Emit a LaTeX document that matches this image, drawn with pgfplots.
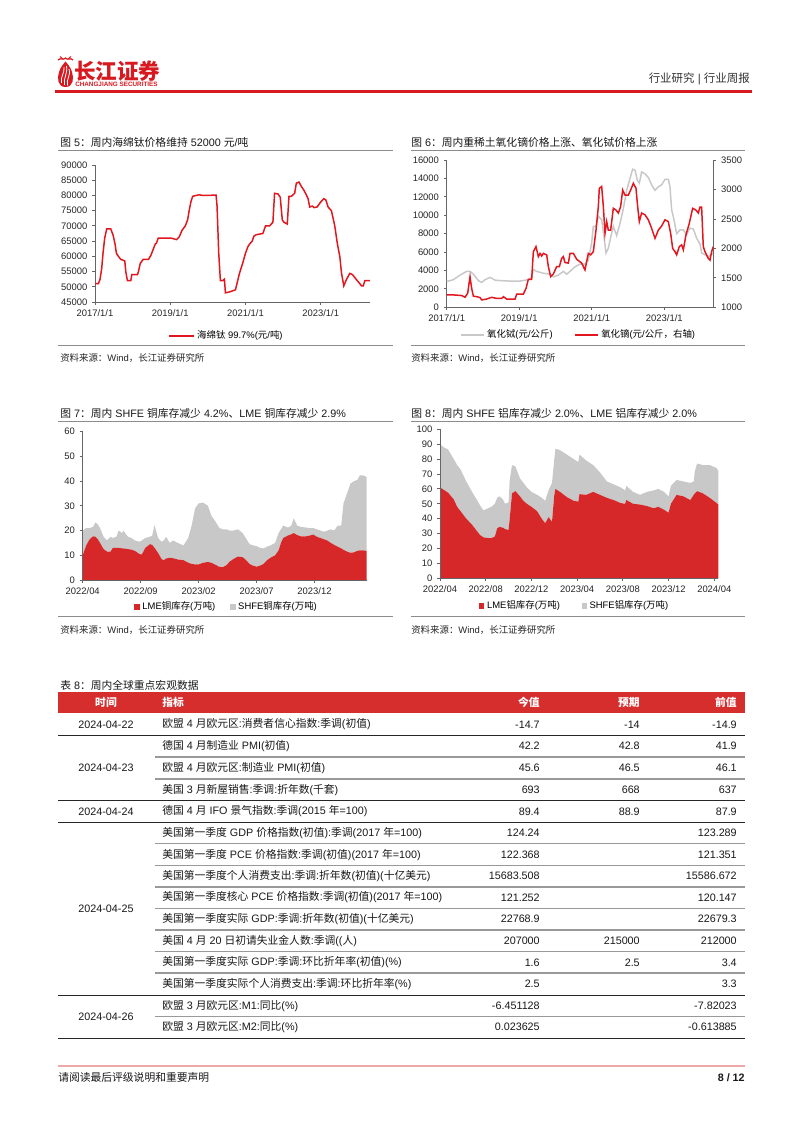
\documentclass[border=0pt]{standalone}
\usepackage{fontspec}
\setmainfont{Liberation Sans}
\newfontfamily\cjk{Noto Sans CJK SC}
\usepackage{pgfplots}
\pgfplotsset{compat=1.18}
\usepackage{pgfplotstable}
\XeTeXinterchartokenstate=1
\newXeTeXintercharclass\CJKcls
\newcount\mycnt
\mycnt="3000 \loop \XeTeXcharclass\mycnt=\CJKcls \ifnum\mycnt<"303F \advance\mycnt by 1 \repeat
\mycnt="4E00 \loop \XeTeXcharclass\mycnt=\CJKcls \ifnum\mycnt<"9FFF \advance\mycnt by 1 \repeat
\mycnt="FF00 \loop \XeTeXcharclass\mycnt=\CJKcls \ifnum\mycnt<"FFEF \advance\mycnt by 1 \repeat
\XeTeXinterchartoks 0 \CJKcls = {\cjk}
\XeTeXinterchartoks 4095 \CJKcls = {\cjk}
\XeTeXinterchartoks \CJKcls 0 = {\rmfamily}
\XeTeXinterchartoks \CJKcls 4095 = {\rmfamily}

\definecolor{cjred}{RGB}{225,22,30}
\definecolor{logored}{RGB}{215,25,32}
\definecolor{areared}{RGB}{214,40,40}
\definecolor{areagray}{RGB}{200,200,200}
\definecolor{lgray}{RGB}{200,200,200}
\definecolor{tbred}{RGB}{214,45,45}
\definecolor{rulegray}{RGB}{140,140,140}
\definecolor{pinkline}{RGB}{238,168,168}

\pgfplotstableread{
x y
2017.000 51000
2017.089 51000
2017.133 52400
2017.178 56000
2017.213 61000
2017.258 66000
2017.311 69000
2017.418 69000
2017.480 67000
2017.533 64000
2017.569 61000
2017.622 60000
2017.684 59000
2017.791 58500
2017.818 55000
2017.862 52000
2017.951 52000
2017.978 54000
2018.129 54000
2018.156 55000
2018.200 57600
2018.280 59000
2018.422 59000
2018.484 60300
2018.529 61700
2018.600 64000
2018.636 64400
2018.680 66000
2019.018 66000
2019.169 65500
2019.240 66400
2019.311 68500
2019.400 70000
2019.462 72000
2019.507 75300
2019.551 78000
2019.596 79700
2019.684 80000
2019.773 80200
2019.862 80000
2020.218 80100
2020.244 76500
2020.289 61000
2020.333 52000
2020.396 52000
2020.440 52500
2020.467 48000
2020.573 48300
2020.733 49000
2020.769 50800
2020.840 54400
2020.929 57900
2021.000 61000
2021.062 63100
2021.107 64000
2021.178 65000
2021.222 66600
2021.284 67100
2021.462 67500
2021.533 70000
2021.640 70000
2021.729 71200
2021.773 80700
2021.862 80500
2021.924 79400
2021.978 72000
2022.022 71200
2022.111 70600
2022.156 79700
2022.218 79700
2022.307 80700
2022.351 84000
2022.422 84400
2022.484 83000
2022.573 81300
2022.662 79000
2022.707 76200
2022.778 76500
2022.822 76000
2022.902 76200
2022.991 77700
2023.080 78900
2023.133 78600
2023.196 76200
2023.284 75000
2023.373 70000
2023.444 64000
2023.507 60000
2023.551 54600
2023.613 50300
2023.684 52400
2023.773 54400
2023.844 54000
2023.933 52600
2024.040 51000
2024.084 50300
2024.129 50300
2024.173 52000
2024.218 52000
2024.307 52000
}\tita

\pgfplotstableread{
x y
2017.000 2800
2017.184 3000
2017.368 3500
2017.551 3900
2017.643 3900
2017.735 3600
2017.873 2900
2017.965 2700
2018.057 3000
2018.195 3250
2018.332 2950
2018.470 2900
2018.746 2850
2019.022 2850
2019.251 3000
2019.343 3300
2019.389 4100
2019.481 3900
2019.665 3700
2019.848 3600
2019.940 3300
2020.078 3500
2020.216 3900
2020.308 3600
2020.400 3900
2020.537 4400
2020.675 4700
2020.813 4700
2020.905 5100
2020.997 7000
2021.043 8800
2021.116 8800
2021.181 9900
2021.273 9500
2021.337 7700
2021.392 5900
2021.456 6400
2021.521 7600
2021.594 8800
2021.686 7800
2021.778 9100
2021.870 10700
2021.962 12700
2022.054 14000
2022.127 15000
2022.192 14900
2022.256 13800
2022.311 13500
2022.375 14700
2022.467 14500
2022.559 14100
2022.651 13300
2022.743 12700
2022.835 13100
2022.927 13300
2023.018 13900
2023.110 13900
2023.156 13100
2023.202 10600
2023.267 9500
2023.340 8000
2023.432 8400
2023.524 8400
2023.616 7900
2023.708 8600
2023.800 8500
2023.891 7500
2023.983 6900
2024.029 5900
2024.121 5700
2024.213 5500
2024.351 5900
}\terb

\pgfplotstableread{
x y
2017.000 1210
2017.184 1210
2017.413 1200
2017.505 1170
2017.579 1240
2017.643 1520
2017.689 1320
2017.735 1190
2017.827 1180
2017.919 1165
2017.965 1125
2018.103 1140
2018.240 1170
2018.378 1150
2018.516 1150
2018.562 1180
2018.654 1140
2018.884 1140
2018.930 1225
2019.113 1225
2019.187 1320
2019.251 1475
2019.343 1475
2019.389 1945
2019.462 2030
2019.527 1860
2019.573 1915
2019.619 1870
2019.665 1915
2019.757 1890
2019.803 1690
2019.867 1520
2019.940 1565
2020.032 1690
2020.106 1690
2020.170 1830
2020.216 1860
2020.262 1760
2020.354 1750
2020.400 1915
2020.492 1915
2020.584 1815
2020.721 1750
2020.813 1635
2020.905 1915
2020.970 1890
2021.043 1945
2021.116 2310
2021.181 2710
2021.208 3020
2021.273 3050
2021.319 2710
2021.365 2255
2021.411 2455
2021.456 2310
2021.521 2310
2021.594 2680
2021.668 2650
2021.732 2600
2021.796 2710
2021.852 2990
2021.916 2905
2022.008 2905
2022.072 2990
2022.146 3105
2022.219 3020
2022.265 2710
2022.311 2455
2022.375 2600
2022.467 2570
2022.559 2485
2022.651 2340
2022.743 2170
2022.835 2310
2022.927 2380
2023.018 2485
2023.110 2455
2023.175 2255
2023.230 2000
2023.294 1945
2023.340 1890
2023.414 2030
2023.478 2060
2023.524 1975
2023.597 2230
2023.689 2425
2023.781 2680
2023.873 2650
2023.937 2600
2023.983 2700
2024.029 2700
2024.075 2030
2024.121 1945
2024.213 1830
2024.259 1800
2024.305 1945
2024.351 2030
}\dysp

\pgfplotstableread{
x lme shfe
0 10 10
0.3 14 7
0.6 16.5 4.5
0.9 17.7 3.8
1.1 17.5 5.8
1.3 16.5 6
1.5 15 6
1.8 12.5 5
2.1 11.5 4.5
2.4 11.5 6
2.6 13 4
2.9 13 4.5
3.1 13 7
3.4 12.8 6.2
3.5 12.8 7.2
3.9 12.5 5
4.2 12.3 4.7
4.5 11.8 4.2
4.9 10.5 5
5.1 10.3 5.7
5.4 13 4
5.8 14.5 3
6.0 14.2 3.8
6.2 13 9.2
6.5 11 6
6.8 8.5 7
7.0 8 8
7.2 8.7 8.8
7.5 9 6
7.8 8.8 7.2
8.2 8.3 6.7
8.7 8 6
9.1 7 10
9.4 6.5 15.5
9.7 6.3 22.7
10.0 6.3 24.7
10.4 7 24.3
10.8 7.3 22.7
11.1 7 19
11.4 6.3 17.7
11.8 5.3 15.7
12.1 5.2 15.3
12.4 6 14.5
12.7 7.5 12.5
13.0 8.5 11.5
13.4 9.5 11
13.8 9.2 9.8
14.0 8.5 9
14.4 6.5 8
14.7 5.8 8.2
15.0 5.4 8.3
15.3 5.8 7.2
15.6 6.5 6.3
15.9 8 5.5
16.2 9 5
16.6 10 5
16.9 12 7
17.1 15 5.5
17.3 17 5
17.7 18 3.2
18.0 18.5 3.5
18.2 19 6
18.5 18.2 3.8
18.8 17.7 3.8
19.3 17.7 3.5
19.6 18 3
19.9 18.4 2.6
20.2 17.5 3
20.5 17 3
20.8 16.5 3
21.1 16 4
21.4 15 5.5
21.7 14.2 5.8
22.0 13.5 8.5
22.3 12.8 9.2
22.5 12.2 18.8
22.8 11.5 23.5
23.1 11 28
23.4 11.2 28.8
23.7 11.8 28.7
23.9 12 30.3
24.2 12 30.3
24.5 11.8 29.9
}\copper

\pgfplotstableread{
x lme shfe
0 61 29
0.3 59.5 28.5
0.7 57.5 29
1.2 53 27
1.5 48 28
1.8 45 28
2.3 40 25
2.8 36 22
3.2 32 21
3.5 29 20
3.8 27.5 18
4.2 27 20
4.5 27 21
4.8 28 22
5.0 33.5 20.5
5.2 34.5 20.5
5.5 34 19
5.7 33 17
6.0 32.5 18.5
6.1 40 26
6.3 57 19
6.6 58.5 16.5
7.0 55 12
7.3 52 12
7.6 50 11
8.0 48 10
8.5 45 11
8.9 40 14
9.2 37 15
9.5 41 18
9.8 38 26
10.0 56 24
10.1 60 27
10.5 58 28
11.1 54.5 28.5
11.7 52 28
12.1 51.5 26.5
12.2 56.5 26.5
12.8 56 23
13.4 58 18
14.0 56 15
14.6 54 11
15.2 52.5 10.5
15.8 50.5 10.5
16.2 50 9
16.3 52.5 9.5
16.9 50 8
17.5 49.5 6.5
18.1 48.5 9.5
18.7 47 12
19.1 48 12
19.6 46 12
20.0 44 11
20.2 50 12
20.7 56 10
21.3 55 10
21.9 52.5 11.5
22.2 56 9
22.3 57 15
22.5 58.5 18.5
23.0 57 19
23.6 54 22
24.2 50.5 23.5
24.35 49.5 22.5
}\alum

\pgfplotsset{
  rp/.style={
    scale only axis, anchor=south west,
    axis line style={draw=black!60, line width=0.6pt},
    every tick/.style={draw=black!60, line width=0.6pt},
    tick align=outside, major tick length=2.2pt,
    tick label style={font=\fontsize{7}{8}\selectfont, text=black!85},
    /pgf/number format/assume math mode=true,
    /pgf/number format/1000 sep={},
    scaled ticks=false,
    legend cell align=left,
    legend columns=2,
    legend style={draw=none, fill=none, font=\fontsize{7}{8.4}\selectfont, anchor=center},
  },
  sqleg/.style={legend image code/.code={\fill[##1] (0pt,-2pt) rectangle (4pt,2pt);}},
}

\tikzset{
  tt/.style={anchor=west, inner sep=0, font=\fontsize{8}{9.6}\selectfont, text=black!90},
  src/.style={anchor=west, inner sep=0, font=\fontsize{7}{8.4}\selectfont, text=black!85},
  tb/.style={inner sep=0, font=\fontsize{8}{9.6}\selectfont, text=black!90},
  th/.style={inner sep=0, font=\fontsize{8}{9.6}\selectfont\bfseries, text=white},
}

\newcommand\trow[5]{%
  \node[tb, anchor=west] at (162,#1) {#2};
  \node[tb, anchor=east] at (540,#1) {#3};
  \node[tb, anchor=east] at (640,#1) {#4};
  \node[tb, anchor=east] at (737,#1) {#5};}

\begin{document}
\begin{tikzpicture}
\begin{scope}[x=0.7422pt,y=-0.7422pt]
\path[use as bounding box, fill=white] (0,0) rectangle (802,1133);
% ---------- header
\fill[logored] (65.5,87) .. controls (57.5,87) and (57,78) .. (59,72) .. controls (60.5,67) and (63.5,64) .. (65.5,61.5) .. controls (67.5,64) and (70.5,67) .. (72,72) .. controls (74,78) and (73.5,87) .. (65.5,87) -- cycle;
\draw[white, line width=0.6pt] (61.5,83) .. controls (60,77) and (65,73) .. (64,67);
\draw[white, line width=0.6pt] (64.5,85) .. controls (63,78) and (68,74) .. (66.5,66);
\draw[white, line width=0.6pt] (67.5,85.5) .. controls (66,79) and (71,76) .. (69,69);
\draw[logored, line width=0.9pt] (58,60) .. controls (61,57) and (63,61) .. (65.5,58) .. controls (68,61) and (70,57) .. (73,60);
\draw[logored, line width=0.7pt] (60,56.5) -- (63,59);
\draw[logored, line width=0.7pt] (71,56.5) -- (68,59);
\node[anchor=west, inner sep=0, text=logored, font=\fontsize{16}{16}\selectfont\bfseries] at (74,71) {长江证券};
\node[anchor=west, inner sep=0, text=logored, font=\fontsize{4.7}{5}\selectfont\bfseries] at (75,84.5) {CHANGJIANG SECURITIES};
\node[anchor=east, inner sep=0, font=\fontsize{8.5}{10}\selectfont, text=black!80] at (750,79) {行业研究 | 行业周报};
\draw[logored, line width=1.6pt] (55,91.5) -- (752,91.5);
% ---------- chart titles and rules
\node[tt] at (60,142) {图 5：周内海绵钛价格维持 52000 元/吨};
\node[tt] at (411,142) {图 6：周内重稀土氧化镝价格上涨、氧化铽价格上涨};
\draw[rulegray, line width=0.7pt] (58,150.5) -- (393,150.5);
\draw[rulegray, line width=0.7pt] (411,150.5) -- (745,150.5);
\draw[rulegray, line width=0.7pt] (58,345) -- (393,345);
\draw[rulegray, line width=0.7pt] (411,345) -- (745,345);
\node[src] at (60,358) {资料来源：Wind，长江证券研究所};
\node[src] at (411,358) {资料来源：Wind，长江证券研究所};
\node[tt] at (60,413.5) {图 7：周内 SHFE 铜库存减少 4.2\%、LME 铜库存减少 2.9\%};
\node[tt] at (411,413.5) {图 8：周内 SHFE 铝库存减少 2.0\%、LME 铝库存减少 2.0\%};
\draw[rulegray, line width=0.7pt] (58,421.7) -- (393,421.7);
\draw[rulegray, line width=0.7pt] (411,421.7) -- (745,421.7);
\draw[rulegray, line width=0.7pt] (58,616.5) -- (393,616.5);
\draw[rulegray, line width=0.7pt] (411,616.5) -- (745,616.5);
\node[src] at (60,630) {资料来源：Wind，长江证券研究所};
\node[src] at (411,630) {资料来源：Wind，长江证券研究所};
% ---------- table
\node[tt] at (60,685) {表 8：周内全球重点宏观数据};
\fill[tbred] (58,692) rectangle (745,713);
\node[th] at (106,702.5) {时间};
\node[th, anchor=west] at (162,702.5) {指标};
\node[th, anchor=east] at (540,702.5) {今值};
\node[th, anchor=east] at (640,702.5) {预期};
\node[th, anchor=east] at (737,702.5) {前值};
% separators
\foreach \yy in {757,779,843.5,865.5,887,908.5,930,951.5,973,1016.5}
  \draw[black!40, line width=0.8pt] (155,\yy) -- (745,\yy);
\foreach \yy in {735.3,800.7,822.3,995}
  \draw[black!85, line width=0.7pt] (58,\yy) -- (745,\yy);
\draw[black!85, line width=0.9pt] (58,1038.3) -- (745,1038.3);
% dates
\node[tb] at (106,724.5) {2024-04-22};
\node[tb] at (106,768) {2024-04-23};
\node[tb] at (106,811.5) {2024-04-24};
\node[tb] at (106,908.5) {2024-04-25};
\node[tb] at (106,1016.5) {2024-04-26};
\trow{724.5}{欧盟 4 月欧元区:消费者信心指数:季调(初值)}{-14.7}{-14}{-14.9}
\trow{746}{德国 4 月制造业 PMI(初值)}{42.2}{42.8}{41.9}
\trow{768}{欧盟 4 月欧元区:制造业 PMI(初值)}{45.6}{46.5}{46.1}
\trow{790}{美国 3 月新屋销售:季调:折年数(千套)}{693}{668}{637}
\trow{811.5}{德国 4 月 IFO 景气指数:季调(2015 年=100)}{89.4}{88.9}{87.9}
\trow{833}{美国第一季度 GDP 价格指数(初值):季调(2017 年=100)}{124.24}{}{123.289}
\trow{855}{美国第一季度 PCE 价格指数:季调(初值)(2017 年=100)}{122.368}{}{121.351}
\trow{876}{美国第一季度个人消费支出:季调:折年数(初值)(十亿美元)}{15683.508}{}{15586.672}
\trow{897.5}{美国第一季度核心 PCE 价格指数:季调(初值)(2017 年=100)}{121.252}{}{120.147}
\trow{919}{美国第一季度实际 GDP:季调:折年数(初值)(十亿美元)}{22768.9}{}{22679.3}
\trow{941}{美国 4 月 20 日初请失业金人数:季调((人)}{207000}{215000}{212000}
\trow{962.5}{美国第一季度实际 GDP:季调:环比折年率(初值)(\%)}{1.6}{2.5}{3.4}
\trow{984}{美国第一季度实际个人消费支出:季调:环比折年率(\%)}{2.5}{}{3.3}
\trow{1006}{欧盟 3 月欧元区:M1:同比(\%)}{-6.451128}{}{-7.82023}
\trow{1027}{欧盟 3 月欧元区:M2:同比(\%)}{0.023625}{}{-0.613885}
% ---------- footer
\draw[pinkline, line width=1.1pt] (58,1066) -- (745,1066);
\node[anchor=west, inner sep=0, font=\fontsize{8}{9.6}\selectfont, text=black!90] at (58,1077.5) {请阅读最后评级说明和重要声明};
\node[anchor=east, inner sep=0, font=\fontsize{8}{9.6}\selectfont\bfseries, text=black!90] at (745,1077.5) {8 / 12};
\end{scope}

% ---------- chart 5
\begin{axis}[rp, at={(70.51pt,-224.14pt)}, width=204.11pt, height=101.68pt,
  xmin=2017, xmax=2024.31, ymin=45000, ymax=90000,
  axis x line*=bottom, axis y line*=left,
  xtick={2017,2019,2021,2023}, xticklabels={2017/1/1,2019/1/1,2021/1/1,2023/1/1},
  ytick={45000,50000,...,90000},
  legend style={at={(0.48,-0.248)}},
  legend image code/.code={\draw[#1] (0pt,0pt) -- (18pt,0pt);}]
\addplot[color=cjred, line width=1.1pt] table[x=x,y=y] {\tita};
\addlegendentry{海绵钛 99.7\%(元/吨)}
\end{axis}

% ---------- chart 6
\begin{axis}[rp, at={(331.54pt,-228.08pt)}, width=197.87pt, height=109.33pt,
  xmin=2017, xmax=2024.351, ymin=0, ymax=16000,
  axis x line*=bottom, axis y line*=left,
  xtick={2017,2019,2021,2023}, xticklabels={2017/1/1,2019/1/1,2021/1/1,2023/1/1},
  ytick={0,2000,...,16000}]
\addplot[color=lgray, line width=1.1pt] table[x=x,y=y] {\terb};
\end{axis}
\begin{axis}[rp, at={(331.54pt,-228.08pt)}, width=197.87pt, height=109.33pt,
  xmin=2017, xmax=2024.351, ymin=1000, ymax=3500,
  axis x line=none, axis y line*=right,
  ytick={1000,1500,...,3500},
  legend style={at={(0.496,-0.188)}, /tikz/every even column/.append style={column sep=14pt}},
  legend image code/.code={\draw[#1] (0pt,0pt) -- (17pt,0pt);}]
\addlegendimage{color=lgray, line width=1.1pt}
\addlegendentry{氧化铽(元/公斤)}
\addplot[color=cjred, line width=1.1pt] table[x=x,y=y] {\dysp};
\addlegendentry{氧化镝(元/公斤，右轴)}
\end{axis}

% ---------- chart 7
\begin{axis}[rp, sqleg, at={(61.38pt,-430.48pt)}, width=210.78pt, height=110.07pt,
  xmin=0, xmax=24.5, ymin=0, ymax=60,
  axis x line*=bottom, axis y line*=left, axis on top,
  stack plots=y,
  xtick={0,5,10,15,20}, xticklabels={2022/04,2022/09,2023/02,2023/07,2023/12},
  ytick={0,10,...,60},
  legend style={at={(0.508,-0.182)}, /tikz/every even column/.append style={column sep=9pt}}]
\addplot[fill=areared, draw=none] table[x=x,y=lme] {\copper} \closedcycle;
\addlegendentry{LME铜库存(万吨)}
\addplot[fill=areagray, draw=none] table[x=x,y=shfe] {\copper} \closedcycle;
\addlegendentry{SHFE铜库存(万吨)}
\end{axis}

% ---------- chart 8
\begin{axis}[rp, sqleg, at={(326.57pt,-429.21pt)}, width=206.55pt, height=110.59pt,
  xmin=0, xmax=24.35, ymin=0, ymax=100,
  axis x line*=bottom, axis y line*=left, axis on top,
  stack plots=y,
  xtick={0,4,...,24}, xticklabels={2022/04,2022/08,2022/12,2023/04,2023/08,2023/12,2024/04},
  ytick={0,10,...,100},
  legend style={at={(0.485,-0.186)}, /tikz/every even column/.append style={column sep=14pt}}]
\addplot[fill=areared, draw=none] table[x=x,y=lme] {\alum} \closedcycle;
\addlegendentry{LME铝库存(万吨)}
\addplot[fill=areagray, draw=none] table[x=x,y=shfe] {\alum} \closedcycle;
\addlegendentry{SHFE铝库存(万吨)}
\end{axis}
\end{tikzpicture}
\end{document}
